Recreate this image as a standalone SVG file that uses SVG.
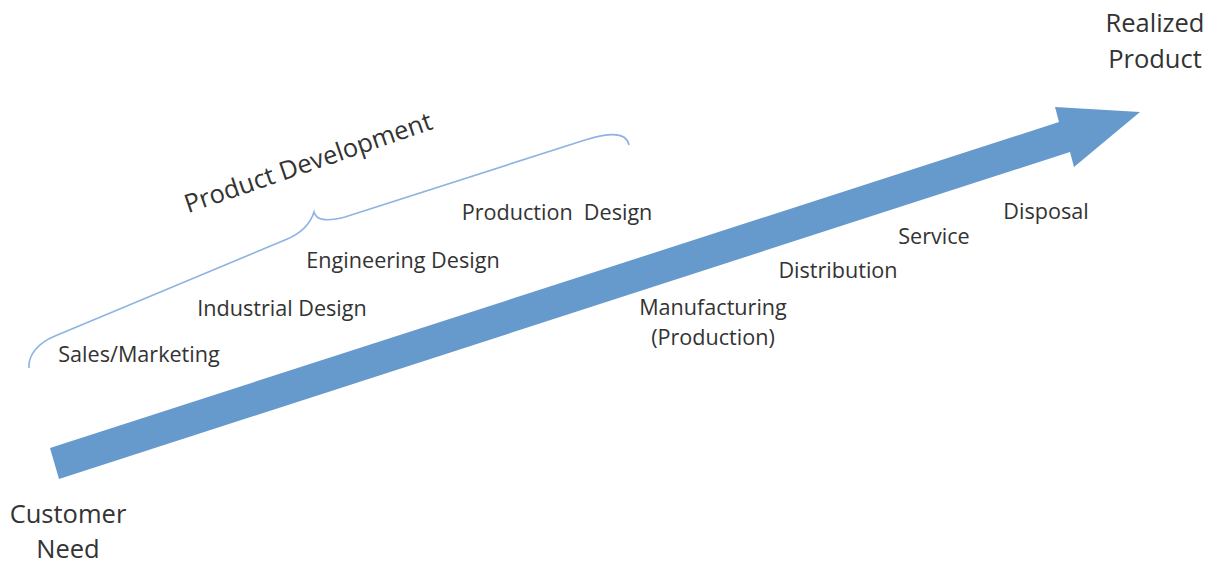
<svg xmlns="http://www.w3.org/2000/svg" width="1208" height="565" viewBox="0 0 1208 565">
<style>
text{font-family:"Open Sans","Noto Sans",sans-serif;fill:#333;text-anchor:middle}
.s{font-size:21.6px}
.b{font-size:25.5px}
.arrow{fill:#6699CC}
.brace{fill:none;stroke:#8DB3E2;stroke-width:1.6}
</style>
<rect width="1208" height="565" fill="#fff"/>
<g id="connectors">
<polygon id="main-arrow" class="arrow" points="50,448 1059,122 1055,107 1140,112 1074,167 1070,152 59,479"/>
<path id="brace" class="brace" d="M 29 368 C 28 355, 38 343, 55 336 L 285 240 C 300 234, 310 225, 314 212 C 316 220, 326 222, 345 217 L 585 140 C 605 134, 626 130, 629 145"/>
</g>
<g id="customer-need"><text class="b" x="68" y="523">Customer</text><text class="b" x="68" y="558">Need</text></g>
<g id="realized-product"><text class="b" x="1155" y="32">Realized</text><text class="b" x="1155" y="68">Product</text></g>
<g id="product-development"><text class="b" transform="translate(311,171) rotate(-19)">Product Development</text></g>
<g id="sales-marketing"><text class="s" x="139" y="362">Sales/Marketing</text></g>
<g id="industrial-design"><text class="s" x="282" y="316">Industrial Design</text></g>
<g id="engineering-design"><text class="s" x="403" y="268">Engineering Design</text></g>
<g id="production-design"><text class="s" x="557" y="220" xml:space="preserve">Production  Design</text></g>
<g id="manufacturing"><text class="s" x="713" y="315">Manufacturing</text><text class="s" x="713" y="345">(Production)</text></g>
<g id="distribution"><text class="s" x="838" y="278">Distribution</text></g>
<g id="service"><text class="s" x="934" y="244">Service</text></g>
<g id="disposal"><text class="s" x="1046" y="219">Disposal</text></g>
</svg>
